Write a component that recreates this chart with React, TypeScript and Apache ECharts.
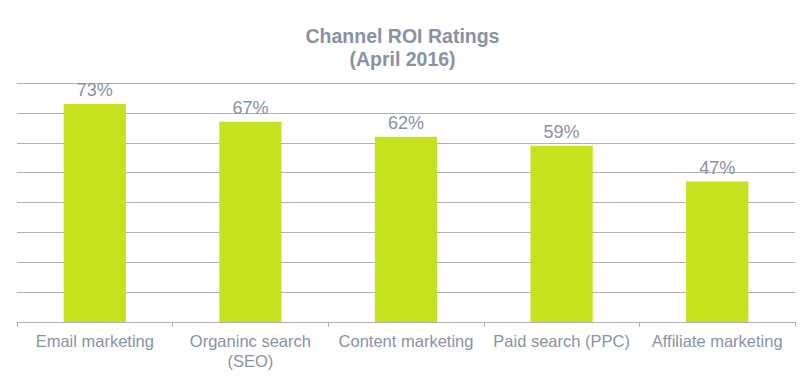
import React, { useEffect, useRef } from "react";
import * as echarts from "echarts";

const categories = ["Email marketing", "Organinc search\n(SEO)", "Content marketing", "Paid search (PPC)", "Affiliate marketing"];
const values = [73, 67, 62, 59, 47];

export default function App() {
  const ref = useRef<HTMLDivElement>(null);
  useEffect(() => {
    const chart = echarts.init(ref.current!, null, { renderer: "svg" });
    chart.setOption({
      animation: false,
      backgroundColor: "#ffffff",
      title: {
        text: "Channel ROI Ratings\n(April 2016)",
        left: "center",
        top: 19,
        textStyle: {
          fontFamily: "Liberation Sans, Arial, sans-serif",
          fontSize: 19.5,
          fontWeight: "bold",
          color: "#8991a3",
          lineHeight: 23,
        },
      },
      grid: { left: 17, right: 10, top: 83, bottom: 57, containLabel: false },
      xAxis: {
        type: "category",
        data: categories,
        axisLine: { lineStyle: { color: "#b0b0b8", width: 1 } },
        axisTick: { show: true, length: 5, lineStyle: { color: "#b0b0b8" } },
        axisLabel: {
          fontFamily: "Liberation Sans, Arial, sans-serif",
          fontSize: 16.5,
          color: "#8a93a6",
          lineHeight: 20,
          margin: 9,
          interval: 0,
        },
      },
      yAxis: {
        type: "value",
        min: 0,
        max: 80,
        interval: 10,
        axisLabel: { show: false },
        axisLine: { show: false },
        axisTick: { show: false },
        splitLine: { lineStyle: { color: "#b0b0b8", width: 1 } },
      },
      series: [
        {
          type: "bar",
          data: values,
          barWidth: "40%",
          itemStyle: { color: "#c6e21f" },
          label: {
            show: true,
            position: "top",
            distance: 5,
            formatter: "{c}%",
            fontFamily: "Liberation Sans, Arial, sans-serif",
            fontSize: 18,
            color: "#8991a3",
          },
        },
      ],
    });
    return () => chart.dispose();
  }, []);
  return <div ref={ref} style={{ width: 805, height: 379, position: "absolute", left: 0, top: 0 }} />;
}
